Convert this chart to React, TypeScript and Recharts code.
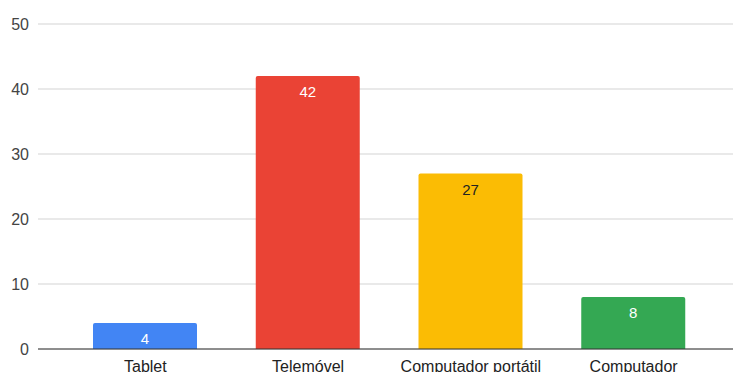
import React from 'react';
import { BarChart, Bar, XAxis, YAxis, CartesianGrid, Cell, LabelList } from 'recharts';

const categories = ['Tablet', 'Telemóvel', 'Computador portátil', 'Computador'];
const values = [4, 42, 27, 8];
const yTicks = [0, 10, 20, 30, 40, 50];
const barColors = ['#4285F4', '#EA4335', '#FBBC04', '#34A853'];
const labelColors = ['#ffffff', '#ffffff', '#222222', '#ffffff'];

const data = categories.map((name, i) => ({ name, value: values[i] }));

const FONT = '"Liberation Sans", Arial, sans-serif';

const renderLabel = (props: any) => {
  const { x, y, width, value, index } = props;
  return (
    <text
      x={x + width / 2}
      y={y + 21}
      textAnchor="middle"
      fill={labelColors[index]}
      fontSize={15}
      fontFamily={FONT}
    >
      {value}
    </text>
  );
};

export default function App() {
  return (
    <div style={{ position: 'absolute', left: 0, top: 0, background: '#fff' }}>
      <BarChart
        width={733}
        height={372}
        data={data}
        margin={{ top: 24, right: 0, bottom: 0, left: 0 }}
      >
        <CartesianGrid vertical={false} stroke="#d3d3d3" />
        <XAxis
          dataKey="name"
          height={23}
          padding={{ left: 26, right: 18 }}
          tickLine={false}
          tickSize={0}
          tickMargin={12}
          axisLine={{ stroke: '#333333' }}
          tick={{ fill: '#222222', fontSize: 16, fontFamily: FONT }}
          interval={0}
        />
        <YAxis
          width={38}
          domain={[0, 50]}
          ticks={yTicks}
          axisLine={false}
          tickLine={false}
          tickSize={0}
          tickMargin={9}
          tick={{ fill: '#444444', fontSize: 16, fontFamily: FONT }}
        />
        <Bar dataKey="value" barSize={104} radius={[2, 2, 0, 0]} isAnimationActive={false}>
          {data.map((d, i) => (
            <Cell key={d.name} fill={barColors[i]} />
          ))}
          <LabelList dataKey="value" content={renderLabel} />
        </Bar>
      </BarChart>
    </div>
  );
}
